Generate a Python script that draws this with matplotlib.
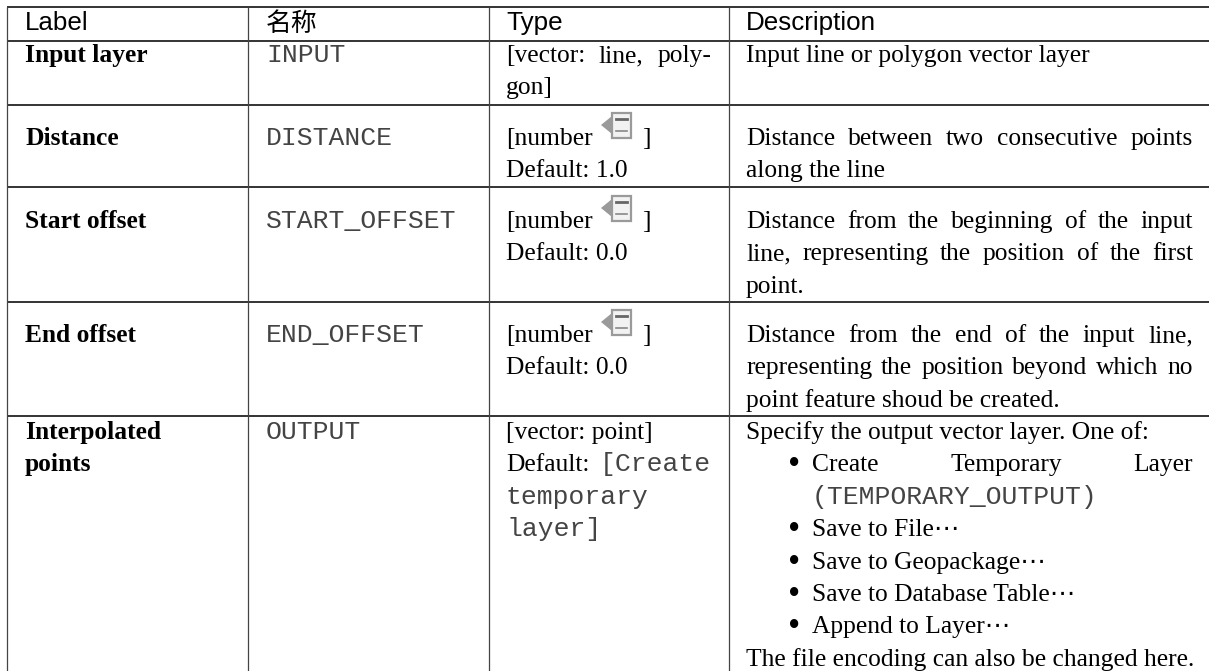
import matplotlib
matplotlib.use('Agg')
import matplotlib.pyplot as plt
from matplotlib.patches import Rectangle, Polygon

# table text
headers = ["Label", "名称", "Type", "Description"]
labels = [["Input layer"], ["Distance"], ["Start offset"], ["End offset"], ["Interpolated", "points"]]
names = ["INPUT", "DISTANCE", "START_OFFSET", "END_OFFSET", "OUTPUT"]
defaults = ["Default: 1.0", "Default: 0.0", "Default: 0.0"]
desc_input = ["Input line or polygon vector layer"]
desc_distance = ["Distance between two consecutive points", "along the line"]
desc_start = ["Distance from the beginning of the input",
              "line, representing the position of the first", "point."]
desc_end = ["Distance from the end of the input line,",
            "representing the position beyond which no",
            "point feature shoud be created."]
output_intro = "Specify the output vector layer. One of:"
output_items = ["Create Temporary Layer", "Save to File⋯", "Save to Geopackage⋯",
                "Save to Database Table⋯", "Append to Layer⋯"]
output_mono = "(TEMPORARY_OUTPUT)"
output_end = "The file encoding can also be changed here."

# pixel layout
col_lines = [7, 248, 489, 729]
row_lines = [7, 40.5, 105, 187, 301.5, 416]
col_text = [25, 266, 506, 746]
right_text = [None, None, 711, 1193]
row_base = [62, 145, 228, 342, 439]
step = 32.4

SERIF = ['Liberation Serif', 'DejaVu Sans']
MONO = 'Liberation Mono'
SANS = 'Liberation Sans'
SIZE = 18.35
MONO_COLOR = '#444444'

fig = plt.figure(figsize=(12.09, 6.71), dpi=100)
ax = fig.add_axes([0, 0, 1, 1])
ax.set_xlim(0, 1209)
ax.set_ylim(671, 0)
ax.axis('off')
rend = fig.canvas.get_renderer()


def put(x, y, s, family=SERIF, color='black', size=SIZE, **kw):
    return ax.text(x, y, s, family=family, fontsize=size, color=color, va='baseline', **kw)


def justified(x0, x1, y, s):
    # spread the words so the line fills the cell like the original
    words = s.split(' ')
    items = [put(x0, y, w) for w in words]
    widths = [t.get_window_extent(rend).width for t in items]
    gap = (x1 - x0 - sum(widths)) / (len(words) - 1)
    x = x0
    for t, w in zip(items, widths):
        t.set_x(x)
        x += w + gap


def icon(x, y):
    grey = '#9a9a9a'
    ax.add_patch(Polygon([(x, y + 13), (x + 11, y + 4), (x + 11, y + 22)], color=grey, lw=0))
    ax.add_patch(Rectangle((x + 11, y + 1), 19, 25, fc='#f2f2f2', ec=grey, lw=1.6))
    ax.plot([x + 15, x + 26], [y + 7, y + 7], color='#666666', lw=2)
    ax.plot([x + 15, x + 26], [y + 19, y + 19], color='#888888', lw=1.2)


# grid
for y in row_lines:
    ax.plot([col_lines[0], 1209], [y, y], color='#111111', lw=1.2, solid_capstyle='butt')
for x in col_lines:
    ax.plot([x, x], [row_lines[0], 671], color='#444444', lw=0.9, solid_capstyle='butt')

# header
for x, h in zip(col_text, headers):
    if h == "名称":
        put(x, 31, h, family='Noto Sans CJK SC', size=18.6)
    else:
        put(x, 30, h, family=SANS, size=18.7)

# label and name columns
for lab, name, base in zip(labels, names, row_base):
    for i, line in enumerate(lab):
        put(col_text[0], base + i * step, line, fontweight='bold')
    put(col_text[1], base, name, family=MONO, color=MONO_COLOR, size=19)

# type column
justified(col_text[2], right_text[2], row_base[0], "[vector: line, poly-")
put(col_text[2], row_base[0] + step, "gon]")
for base, d in zip(row_base[1:4], defaults):
    put(col_text[2], base, "[number")
    icon(601, base - 33)
    put(642, base, "]")
    put(col_text[2], base + step, d)
put(col_text[2], row_base[4], "[vector: point]")
put(col_text[2], row_base[4] + step, "Default:")
put(right_text[2], row_base[4] + step, "[Create", family=MONO, color=MONO_COLOR, size=19, ha='right')
put(col_text[2], row_base[4] + 2 * step, "temporary", family=MONO, color=MONO_COLOR, size=19)
put(col_text[2], row_base[4] + 3 * step, "layer]", family=MONO, color=MONO_COLOR, size=19)

# description column
put(col_text[3], row_base[0], desc_input[0])
for base, lines in zip(row_base[1:4], [desc_distance, desc_start, desc_end]):
    for i, line in enumerate(lines):
        if i < len(lines) - 1:
            justified(col_text[3], right_text[3], base + i * step, line)
        else:
            put(col_text[3], base + i * step, line)

base = row_base[4]
put(col_text[3], base, output_intro)
justified(812, right_text[3], base + step, output_items[0])
put(812, base + 2 * step, output_mono, family=MONO, color=MONO_COLOR, size=19)
for i, item in enumerate(output_items):
    n = 1 if i == 0 else i + 2
    put(788, base + n * step + 3, "•", size=25)
    if i > 0:
        put(812, base + n * step, item)
put(col_text[3], base + 7 * step, output_end)

fig.savefig('out.png', dpi=100)
